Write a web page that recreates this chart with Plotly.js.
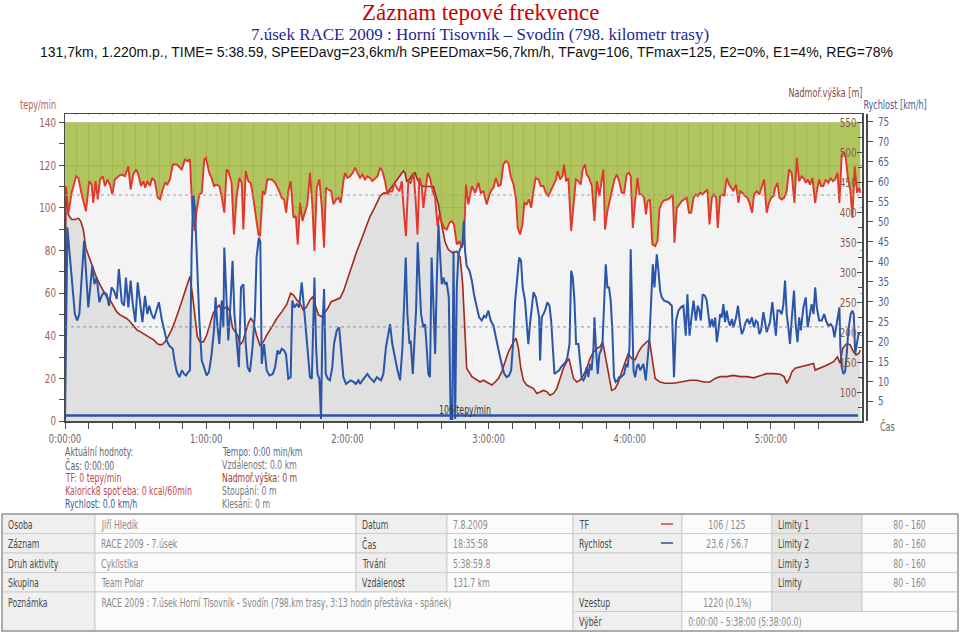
<!DOCTYPE html>
<html><head><meta charset="utf-8">
<script src="https://cdn.plot.ly/plotly-3.0.1.min.js"></script>
<style>html,body{margin:0;padding:0;background:#fff;}#chart{width:960px;height:633px;}</style>
</head><body><div id="chart"></div>
<script>
// ---------------- DATA ----------------
const titleMain = 'Záznam tepové frekvence';
const titleSub = '7.úsek RACE 2009 : Horní Tisovník – Svodín (798. kilometr trasy)';
const titleStats = '131,7km, 1.220m.p., TIME= 5:38.59, SPEEDavg=23,6km/h SPEEDmax=56,7km/h, TFavg=106, TFmax=125, E2=0%, E1=4%, REG=78%';

// time in minutes, heart rate in beats/min
const hrSamples = [[0,109],[0.5,110],[1.4,97],[2.8,107],[4.7,114.8],[5.7,114],[7.1,106.3],[8.9,98.4],[10.3,112.5],[11.3,110.9],[12.0,102.3],[13.0,112.5],[13.9,103.9],[14.9,113.3],[16.0,114.8],[17.0,110.2],[18.0,113.3],[19.1,110.9],[20.1,106.3],[21.2,113.3],[22.7,114.8],[24.1,115.6],[25.5,114.8],[26.9,119.5],[27.9,108.6],[29.0,115.6],[30.2,118],[31.2,115.6],[32.3,110.2],[33.3,112.5],[34.1,109.4],[35.0,112.5],[36.1,110.2],[37.0,114],[38.2,112.5],[39.4,104.7],[40.4,103.9],[41.5,108.6],[42.6,111.7],[43.5,110.9],[44.6,113.3],[45.8,120.3],[47.5,120.3],[49.6,118],[51.0,122.7],[52.0,121.9],[53.1,122.7],[54.2,96.9],[55.1,89.1],[55.9,98.4],[57.1,106.3],[58.1,107],[59.2,122.7],[59.9,123.4],[61.3,116.4],[62.3,114],[63.3,110.2],[64.4,110.9],[65.6,110.2],[66.7,104.7],[67.7,97.7],[68.7,118],[69.4,117.2],[70.8,111.7],[71.8,87.5],[72.9,104.7],[74.1,114],[75.1,111.7],[75.8,89.8],[76.8,117.2],[77.9,112.5],[78.9,111.7],[79.7,107],[80.7,100],[82.2,87.5],[82.9,86.7],[84.0,107.8],[85.0,106.3],[86.0,113.3],[87.9,113.3],[89.3,111.7],[90.7,108.6],[92.1,104.7],[93.1,103.9],[94.0,97.7],[94.9,107.8],[95.9,112.5],[97.1,95.3],[98.1,96.1],[98.9,82.8],[99.9,102.3],[100.9,93.8],[102.0,97.7],[103.0,101.6],[104.1,116.4],[105.1,101.6],[106.0,79.7],[107.0,109.4],[108.1,113.3],[109.1,100.8],[110.1,81.3],[110.9,109.4],[111.9,108.6],[113.1,107.8],[114.1,101.6],[115.2,103.9],[116.2,104.7],[117.2,102.3],[118.3,112.5],[119.0,116.4],[120.0,114],[121.1,114.8],[122.3,116.4],[123.3,118.8],[124.3,116.4],[125.4,114],[126.4,115.6],[127.5,113.3],[128.5,114.8],[129.6,114],[130.6,112.5],[131.8,114],[132.8,114.8],[133.9,118.8],[134.9,117.2],[136.0,112.5],[137.0,106.3],[138.1,107.8],[139.1,107.8],[140.0,111.7],[141.0,109.4],[142.1,107.8],[143.1,112.5],[144.1,96.9],[144.9,86.7],[145.9,112.5],[146.9,111.7],[148.1,116.4],[148.9,105.5],[149.8,87.5],[150.6,114],[151.6,110.2],[152.3,100],[153.3,109.4],[154.2,116.4],[155.1,114],[156.3,107.8],[157.3,104.7],[158.3,91.4],[159.1,96.9],[160.1,93],[161.1,90.6],[162.2,89.8],[163.4,93],[164.3,93.8],[165.3,92.2],[166.5,82.8],[167.6,84.4],[168.6,81.3],[169.6,85.9],[170.4,110.9],[171.4,101.6],[172.9,110.2],[174.3,107],[175.7,111.7],[176.7,107],[177.8,107.8],[179.2,101.6],[180.4,106.3],[181.4,108.6],[182.1,109.4],[183.1,114],[184.2,110.2],[185.2,110.9],[186.3,120.3],[187.3,121.9],[188.4,121.1],[189.4,114.8],[190.6,110.9],[191.6,104.7],[192.4,90.6],[193.4,87.5],[194.4,92.2],[195.2,102.3],[196.2,101.6],[197.2,103.9],[198.1,100],[199.1,107.8],[200.0,114],[201.2,113.3],[202.2,110.2],[203.3,110.2],[204.3,107],[205.4,105.5],[206.4,107.8],[207.6,110.2],[208.7,113.3],[209.3,117.2],[210.4,113.3],[211.4,114.8],[212.1,120.3],[212.9,112.5],[213.9,114],[215.1,89.1],[216.1,103.1],[217.1,113.3],[218.2,112.5],[219.2,110.9],[220.0,118],[221.0,120.3],[221.7,115.6],[222.7,114],[223.9,110.2],[225.0,93.8],[226.0,112.5],[227.1,105.5],[228.1,113.3],[228.8,118],[229.5,89.8],[230.5,98.4],[231.6,103.9],[232.6,108.6],[233.5,113.3],[234.5,115.6],[235.5,112.5],[236.6,107],[237.6,107],[238.7,115.6],[239.7,116.4],[240.4,114.8],[241.3,90.6],[242.3,103.1],[243.3,114],[244.1,106.3],[245.1,106.3],[246.1,104.7],[246.9,96.9],[247.6,103.1],[248.6,103.9],[249.6,82.8],[250.8,82],[251.8,84.4],[252.6,99.2],[253.6,102.3],[254.6,103.5],[256.0,103.9],[257.2,104.7],[258.3,106.3],[259.0,83.6],[260.0,100],[261.1,101.6],[262.1,103.1],[263.1,103.9],[264.2,104.7],[265.2,97.7],[266.1,97.7],[267.1,104.7],[268.1,106.3],[268.9,105.5],[269.9,107],[270.9,106.3],[272.0,107.8],[273.0,108.6],[273.9,92.2],[274.9,104.7],[275.8,106.3],[276.7,104.7],[277.4,90.6],[278.4,105.5],[279.4,106.3],[280.2,105.5],[281.2,114],[282.2,110.9],[283.1,109.4],[284.1,107.8],[285.2,110.9],[286.2,102.3],[286.9,107.8],[287.9,107],[289.0,105.5],[290.0,104.7],[290.9,102.3],[292.0,97.7],[292.8,106.3],[294.0,107.8],[295.1,106.3],[296.1,110.2],[297.1,113.3],[298.2,97.7],[299.2,102.3],[300.1,104.7],[301.1,105.5],[301.8,109.4],[302.8,111.7],[303.6,104.7],[304.6,103.9],[305.6,104.7],[306.7,107.8],[307.7,118],[308.8,116.4],[310.0,102.3],[311.0,123.4],[312.0,112.5],[313.1,114.8],[313.8,114],[314.8,111.7],[315.6,113.3],[316.6,110.9],[317.6,114],[318.8,102.3],[319.5,107.8],[320.5,113.3],[321.3,110.2],[322.3,110.2],[323.3,113.3],[324.4,111.7],[325.4,114],[326.3,112.5],[327.3,113.3],[328.3,116.4],[329.1,102.3],[330.1,125],[331.1,125.8],[331.8,123.4],[332.8,113.3],[333.8,107.8],[334.6,95.3],[335.6,119.5],[336.6,107],[337.5,109.4],[338.0,107]];

// time in minutes, altitude in m
const altSamples = [[0,0],[0.4,440],[1.4,396],[2.8,388],[4.2,388],[5.7,390],[6.7,385],[7.8,371],[8.9,340],[9.9,329],[10.9,321],[12.0,307],[13.5,290],[14.9,279],[16.3,268],[17.7,259],[19.1,254],[20.5,243],[22.0,234],[23.4,229],[24.8,226],[26.2,223],[27.6,218],[29.0,212],[30.5,204],[31.9,201],[33.3,198],[35.0,193],[36.4,190],[37.8,187],[39.2,181],[40.4,179],[41.5,180],[42.5,184],[43.9,193],[45.3,204],[46.7,218],[48.2,234],[49.6,251],[51.0,268],[52.4,285],[53.1,293],[54.2,262],[55.2,223],[56.2,193],[57.4,184],[58.8,184],[60.2,195],[61.6,215],[63.0,232],[64.4,240],[65.6,246],[66.6,234],[67.7,240],[69.0,243],[70.1,234],[71.2,207],[72.2,201],[73.4,195],[74.4,179],[75.5,184],[76.8,201],[77.9,215],[78.9,223],[80.0,218],[81.4,195],[82.9,178],[84.3,184],[85.7,195],[87.9,209],[90.0,223],[92.1,234],[94.2,246],[95.9,265],[97.1,262],[98.5,254],[99.9,248],[101.3,237],[102.7,243],[104.1,254],[105.3,259],[106.3,246],[107.7,229],[109.1,226],[110.2,232],[111.7,240],[113.1,251],[114.8,254],[116.9,257],[118.3,268],[119.7,285],[121.1,301],[122.6,318],[124.0,335],[125.4,349],[126.8,363],[128.2,379],[129.6,393],[131.1,404],[132.5,416],[133.9,427],[135.3,432],[136.7,432],[138.1,438],[139.6,446],[141.0,455],[142.4,463],[143.8,469],[144.5,466],[145.2,452],[146.4,455],[147.6,463],[148.8,466],[149.5,457],[150.9,446],[152.3,443],[153.7,443],[155.1,443],[156.6,443],[157.5,429],[158.7,413],[160.1,379],[161.5,351],[162.9,338],[164.8,332],[166.5,335],[167.9,325],[169.0,280],[169.8,200],[170.7,140],[172.9,126],[175.0,120],[176.4,117],[177.8,120],[179.9,115],[181.4,112],[182.8,117],[184.2,123],[185.6,134],[187.0,151],[188.4,167],[190.6,184],[191.7,190],[192.7,173],[193.7,140],[194.8,120],[196.2,112],[197.6,109],[199.1,106],[200.5,98],[201.9,101],[203.3,103],[204.7,101],[206.1,95],[207.6,98],[209.0,106],[210.4,123],[211.8,140],[213.2,151],[214.2,156],[215.1,140],[216.1,123],[217.5,117],[218.9,120],[220.3,128],[221.7,140],[223.1,156],[224.6,167],[226.0,173],[227.4,176],[228.5,184],[229.5,162],[230.9,128],[232.3,103],[233.8,106],[235.2,117],[236.6,134],[238.0,151],[239.4,165],[240.8,156],[242.3,154],[243.7,167],[245.1,176],[247.2,184],[248.4,187],[249.3,162],[250.8,123],[252.9,117],[255.0,115],[258.6,115],[260.7,117],[262.8,118],[265.6,120],[268.5,120],[271.3,117],[274.1,117],[276.3,123],[278.4,126],[281.2,126],[284.1,128],[286.9,126],[289.7,126],[292.6,124],[295.4,127],[298.2,131],[301.1,131],[303.9,130],[305.6,126],[306.7,115],[307.9,123],[308.9,134],[310.3,140],[312.4,142],[315.2,145],[318.1,148],[318.8,137],[320.9,140],[323.7,145],[326.6,151],[328.3,159],[329.4,148],[330.5,173],[331.7,179],[332.5,181],[333.7,179],[335.1,167],[336.2,162],[337.4,165],[338.0,170]];

// time in minutes, speed in km/h
const speedSamples = [[0,0],[1.0,48.5],[4.2,26.8],[5.2,25.2],[6.1,26.8],[7.1,36.8],[8.1,45.2],[8.9,37.7],[9.9,28.5],[10.6,32.7],[11.6,38.9],[12.5,34.3],[13.5,36],[14.6,29.8],[15.6,31.4],[16.6,32.3],[17.7,31.8],[18.7,28.9],[19.8,33.5],[20.8,32.7],[22.0,30.6],[22.9,38.1],[24.1,29.8],[25.1,28.9],[25.9,36],[26.9,28.5],[27.9,35.2],[28.8,29.3],[29.9,24.8],[30.9,34.8],[31.9,28.9],[32.9,24.8],[34.0,31.4],[35.0,26.8],[35.8,28.9],[36.8,26.8],[37.8,25.6],[39.0,27.7],[39.9,29.8],[41.1,25.6],[42.1,22.7],[43.2,20.2],[44.3,18.9],[45.8,18.1],[46.5,15.2],[47.5,12.3],[48.6,11],[49.7,12.7],[50.6,11.8],[51.4,11.4],[52.4,12.3],[53.1,12.7],[53.8,42.3],[54.5,56.7],[55.2,53.5],[55.9,41],[57.1,25.2],[58.1,15.2],[59.1,13.5],[60.2,11.4],[61.2,12.3],[62.3,16.8],[63.3,22.7],[64.0,31],[64.7,24.3],[65.6,19.3],[66.6,30.2],[67.3,23.5],[67.7,43.5],[68.7,26.8],[69.4,20.2],[70.4,30.2],[71.2,40.2],[72.0,26.8],[72.9,19.3],[73.9,13.5],[74.8,33.5],[75.8,34.3],[76.8,19.3],[77.6,13.5],[78.6,12.3],[79.7,18.5],[80.7,26.8],[81.4,41],[82.4,46],[83.0,45],[83.6,14.3],[84.6,19.3],[85.7,12.7],[86.9,11.4],[88.3,11.8],[89.3,13.5],[90.3,17.7],[91.1,16.8],[92.1,18.1],[93.1,17.7],[93.9,16.8],[94.9,10.6],[95.9,11],[96.6,30.2],[97.5,28.5],[98.5,29.3],[99.5,28.5],[100.6,34.8],[101.3,30.2],[102.3,22.7],[103.2,16],[104.1,11],[104.9,10.6],[105.6,30.2],[106.0,36],[106.7,18.5],[107.3,11.8],[108.1,10.6],[108.8,0.5],[109.4,23.5],[110.1,33.1],[110.8,11.8],[111.7,10.6],[112.6,10.2],[113.6,13.5],[114.3,19.3],[115.5,22.7],[116.5,23.5],[117.3,18.5],[118.3,11],[119.4,9.3],[120.4,9.8],[121.4,10.2],[122.6,9.8],[123.6,9.3],[124.7,10.2],[125.4,9.3],[126.4,10.2],[127.5,11],[128.5,11.8],[129.4,11],[130.4,10.2],[131.3,9.8],[132.5,11],[133.5,10.6],[134.3,10.2],[135.3,11.8],[136.4,18.5],[137.4,21.8],[138.1,24.3],[139.1,19.3],[140.3,15.2],[141.3,12.7],[142.4,10.2],[143.4,18.5],[144.2,31],[144.8,41],[145.5,26.8],[146.4,19.3],[146.9,20.2],[147.8,11.8],[148.5,20.2],[149.2,27.7],[149.9,44.8],[150.6,36.8],[151.3,26.8],[152.3,23.5],[153.0,24.3],[153.7,18.5],[154.4,11.8],[155.1,11],[155.8,41],[156.6,28.5],[157.3,16.8],[158.0,35.2],[158.7,49.3],[159.4,41.8],[160.1,34.3],[160.8,36],[161.5,34.3],[162.2,34.8],[163.1,31],[163.9,0.5],[164.6,0.5],[165.1,42.7],[165.8,0.5],[166.5,33.5],[167.2,41.8],[167.9,43.1],[168.9,44.3],[169.5,50.2],[170.0,42.7],[170.7,38.9],[171.9,37.7],[172.9,35.2],[173.8,31.8],[175.0,28.5],[176.0,26],[177.1,25.2],[178.1,26.4],[178.9,26],[179.9,27.7],[180.9,25.2],[182.1,23.9],[183.1,21],[183.9,18.5],[184.9,16],[185.9,13.5],[186.7,11.8],[187.7,11],[188.7,11.4],[189.6,12.7],[190.3,18.5],[191.3,30.2],[192.3,37.7],[193.0,41],[193.8,40.2],[194.5,33.5],[195.5,30.2],[196.2,25.2],[196.9,19.3],[197.6,24.3],[198.4,29.3],[199.1,32.3],[200.1,31],[200.8,28.5],[201.5,26],[201.9,15.2],[202.6,26],[203.3,26.8],[204.0,27.7],[205.0,29.8],[205.9,28.9],[206.6,25.2],[207.3,18.5],[208.0,11.8],[209.0,12.3],[210.0,12.7],[210.8,13.5],[211.8,14.3],[212.8,14.8],[213.5,16],[214.4,19.3],[215.1,37.7],[215.8,36],[216.5,30.2],[217.2,19.3],[218.2,19.3],[218.9,14.3],[219.6,10.6],[220.3,10.2],[221.0,11],[221.7,13.5],[222.4,11],[223.1,14.3],[223.8,12.7],[224.6,18.5],[225.0,26],[225.6,18.5],[226.4,11.8],[227.1,16.8],[227.8,17.7],[228.4,19.3],[229.1,30.2],[229.8,39.3],[230.5,33.5],[231.2,33.5],[231.9,30.2],[232.6,22.7],[233.3,11],[234.0,9.8],[234.8,10.2],[235.5,11],[236.2,11],[236.9,11.4],[237.6,11.8],[238.4,14.3],[239.1,13.5],[239.9,18.5],[240.4,43.1],[241.0,27.7],[241.6,12.7],[242.3,11],[243.0,13.5],[243.7,14.3],[244.4,12.7],[245.1,13.5],[245.8,14.3],[246.8,10.2],[247.5,14.3],[248.4,21],[249.1,30.2],[249.8,39.3],[250.5,33.5],[251.5,41.8],[252.2,37.7],[252.9,32.7],[253.6,31],[254.6,30.2],[256.4,29.8],[257.9,28.9],[258.8,11],[259.7,25.2],[260.7,27.7],[261.7,28.5],[262.8,28.9],[263.8,21.4],[264.5,31.8],[265.4,21.4],[266.1,25.2],[267.1,30.2],[268.1,25.2],[268.9,28.9],[269.6,27.7],[270.2,25.2],[271.0,31.8],[272.0,31.4],[272.7,30.2],[273.4,26.8],[274.1,23.5],[274.9,25.6],[275.6,23.5],[276.3,26],[277.0,19.8],[277.7,22.7],[278.4,26.8],[279.1,26],[279.8,29.3],[280.5,24.8],[281.2,27.7],[281.9,25.2],[282.6,23.9],[283.4,25.6],[284.1,23.5],[285.2,26],[286.0,28.9],[286.9,24.3],[287.6,21.8],[288.3,22.7],[289.0,24.3],[290.0,25.6],[290.9,24.3],[291.9,26],[292.8,23.5],[293.6,25.2],[294.3,24.8],[295.1,21.8],[295.8,22.7],[296.8,27.3],[297.7,23.5],[298.2,22.3],[298.9,23.5],[299.6,24.8],[300.6,29.8],[301.3,25.2],[302.1,21.4],[302.8,27.7],[303.6,27.7],[304.6,26.8],[305.3,29.3],[306.0,35.2],[306.7,26.8],[307.4,23.5],[308.1,19.3],[308.8,25.2],[309.8,32.7],[310.5,24.3],[311.3,19.8],[312.0,26],[312.7,22.7],[313.8,28.5],[314.8,31],[315.6,23.5],[316.6,26.8],[317.3,29.3],[318.1,26.8],[318.8,33.5],[319.5,28.5],[320.5,25.2],[321.6,25.2],[322.6,26.8],[323.4,25.2],[324.4,23.9],[325.4,24.3],[326.3,23.5],[327.0,21],[327.7,23.5],[328.4,26.8],[329.1,28.5],[329.5,18.5],[330.1,13.5],[330.8,11.8],[331.5,12.3],[332.2,16.8],[332.9,22.7],[333.9,26.8],[334.6,27.7],[335.2,26.8],[335.8,16.8],[336.5,19.3],[337.2,21.8],[337.9,21.8]];

const zoneTime = [0, 338];       // HR limit zone (80-160), visible part up to 140
const zoneTop = [140, 140];
const hrAvg = 106;
const speedAvg = 23.6;
const baseTime = [0, 337];
const baseSpeed = [1.4, 1.4];

const timeTicks = [0,10,20,30,40,50,60,70,80,90,100,110,120,130,140,150,160,170,180,190,200,210,220,230,240,250,260,270,280,290,300,310,320,330];
const hourLabels = ['0:00:00','1:00:00','2:00:00','3:00:00','4:00:00','5:00:00'];
const hrTicks = [0,20,40,60,80,100,120,140];
const altTicks = [100,150,200,250,300,350,400,450,500,550];
const speedTicks = [5,10,15,20,25,30,35,40,45,50,55,60,65,70,75];

const infoLeft = ['Aktuální hodnoty:','Čas: 0:00:00','TF: 0 tepy/min',"Kalorick8 spot'eba: 0 kcal/60min",'Rychlost: 0.0 km/h'];
const infoRight = ['Tempo: 0:00 min/km','Vzdálenost: 0.0 km','Nadmoř.výška: 0 m','Stoupání: 0 m','Klesání: 0 m'];

const tableRows = [
  ['Osoba','Jiří Hledík','Datum','7.8.2009','TF','106 / 125','Limity 1','80 - 160'],
  ['Záznam','RACE 2009 - 7.úsek','Čas','18:35:58','Rychlost','23.6 / 56.7','Limity 2','80 - 160'],
  ['Druh aktivity','Cyklistika','Trvání','5:38:59.8','','','Limity 3','80 - 160'],
  ['Skupina','Team Polar','Vzdálenost','131.7 km','','','Limity','80 - 160']
];
const noteRow = ['Poznámka','RACE 2009 : 7.úsek Horní Tisovník - Svodín (798.km trasy, 3:13 hodin přestávka - spánek)','Vzestup','1220 (0.1%)'];
const selectRow = ['Výběr','0:00:00 - 5:38:00 (5:38:00.0)'];

// ---------------- STYLE / LAYOUT ----------------
const NARROW = "'DejaVu Sans Condensed','Liberation Sans Narrow',sans-serif";
const SQUEEZE = 0.72;
const TICK_SQUEEZE = 0.78;
const L = 65, R = 866, T = 114, B = 421, PR = 862;
const px = x => (x - L) / (R - L);
const py = y => (B - y) / (B - T);

const hrT = hrSamples.map(p => p[0]), hrV = hrSamples.map(p => p[1]);
const altT = altSamples.map(p => p[0]), altV = altSamples.map(p => p[1]);
const spT = speedSamples.map(p => p[0]), spV = speedSamples.map(p => p[1]);

const HR_RANGE = [0, 144];
const traces = [
  {x: zoneTime, y: zoneTop, type:'scatter', mode:'lines', line:{width:0, color:'rgba(0,0,0,0)'}, hoverinfo:'skip', xaxis:'x', yaxis:'y'},
  {x: hrT, y: hrV, type:'scatter', mode:'lines', fill:'tonexty', fillcolor:'rgba(164,188,68,0.86)', line:{width:0, color:'rgba(0,0,0,0)'}, hoverinfo:'skip', xaxis:'x', yaxis:'y'},
  {x: hrT, y: hrV, type:'scatter', mode:'lines', fill:'tozeroy', fillcolor:'#f3f3f3', line:{width:0, color:'rgba(0,0,0,0)'}, hoverinfo:'skip', xaxis:'x', yaxis:'y'},
  {x: altT, y: altV, type:'scatter', mode:'lines', fill:'tozeroy', fillcolor:'#e0e0e0', line:{width:1.6, color:'#9e2a1c'}, xaxis:'x', yaxis:'y2'},
  {x: hrT, y: hrV, type:'scatter', mode:'lines', line:{width:1.9, color:'#e2382c'}, xaxis:'x', yaxis:'y3'},
  {x: spT, y: spV, type:'scatter', mode:'lines', line:{width:2, color:'#2a55a8'}, xaxis:'x', yaxis:'y4'},
  {x: baseTime, y: baseSpeed, type:'scatter', mode:'lines', line:{width:2.5, color:'#2a55a8'}, xaxis:'x', yaxis:'y4'}
];

const tickText = timeTicks.map(t => (t % 60 === 0) ? hourLabels[t/60] : '');

const shapes = [];
const annotations = [];
const annSqueeze = [];
function addText(text, x, y, opt, squeeze) {
  opt = opt || {};
  annotations.push(Object.assign({text: text, xref:'paper', yref:'paper', x: px(x), y: py(y), showarrow:false,
    xanchor:'left', yanchor:'middle', borderpad:0,
    font:{family:NARROW, size:11.5, color:'#666'}}, opt));
  annSqueeze.push(squeeze === undefined ? SQUEEZE : squeeze);
}
function rect(x0, y0, x1, y1, fill, lc, lw) {
  shapes.push({type:'rect', xref:'paper', yref:'paper', x0:px(x0), x1:px(x1), y0:py(y1), y1:py(y0),
    fillcolor:fill, line:{color:lc || '#cdcdcd', width: lw === undefined ? 1 : lw}, layer:'above'});
}
const nf = (size, color) => ({family:NARROW, size:size, color:color});

// white strip above the 140 zone, hiding grid
shapes.push({type:'rect', xref:'x', yref:'y', x0:0, x1:338.7, y0:140, y1:143.6, fillcolor:'#ffffff', line:{width:0}, layer:'between'});
// average lines
shapes.push({type:'line', xref:'x', yref:'y', x0:0, x1:338.7, y0:hrAvg, y1:hrAvg, line:{color:'#a0a0a0', width:1, dash:'dot'}});
shapes.push({type:'line', xref:'x', yref:'y4', x0:0, x1:338.7, y0:speedAvg, y1:speedAvg, line:{color:'#8090b8', width:1, dash:'dot'}});

// titles
addText(titleMain, 481, 12, {xanchor:'center', font:{family:"'Liberation Serif','Times New Roman',serif", size:23, color:'#cc0000'}}, 1);
addText(titleSub, 480, 34, {xanchor:'center', font:{family:"'Liberation Serif','Times New Roman',serif", size:17, color:'#1f1f9a'}}, 1);
addText(titleStats, 466, 52, {xanchor:'center', font:{family:"'Liberation Sans',Arial,sans-serif", size:14, color:'#111'}}, 1);

// axis titles
addText('tepy/min', 38, 104, {xanchor:'center', font:nf(12.5, '#b06060')});
addText('Nadmoř.výška [m]', 825, 93, {xanchor:'center', font:nf(12.5, '#8b4a3a')});
addText('Rychlost [km/h]', 895, 104, {xanchor:'center', font:nf(12.5, '#4a6090')});
addText('Čas', 887, 426, {xanchor:'center', font:nf(12.5, '#666')});
addText(hrAvg + ' tepy/min', 438, 410, {font:nf(12, '#333')});

// info block
const infoY = [452, 465, 478, 491, 504];
const leftColors = ['#666','#666','#c04a4a','#c04a4a','#3a5a9a'];
const rightColors = ['#4a6aa0','#777','#a03c3c','#777','#777'];
infoLeft.forEach((s,i) => addText(s, 64, infoY[i], {font:nf(12, leftColors[i])}));
infoRight.forEach((s,i) => addText(s, 221, infoY[i], {font:nf(12, rightColors[i])}));

// table
const colEdges = [2, 95, 356, 447, 573, 682, 772, 862, 958];
const rowEdges = [514, 533.5, 553, 572.5, 592, 611.5, 631];
const labelFill = '#efefef', valueFill = '#fbfbfb', limitFill = '#e6e6e6';
const fills = [labelFill, valueFill, labelFill, valueFill, labelFill, valueFill, limitFill, valueFill];
const centered = [false,false,false,false,false,true,false,true];
const labelColor = '#4a4a4a', valueColor = '#8a8a8a';
const TS = 12;
tableRows.forEach((row, r) => {
  row.forEach((txt, c) => {
    rect(colEdges[c], rowEdges[r], colEdges[c+1], rowEdges[r+1], fills[c]);
    const yc = (rowEdges[r] + rowEdges[r+1]) / 2 + 1;
    const col = (c % 2 === 0) ? labelColor : valueColor;
    if (txt) {
      if (centered[c]) addText(txt, (colEdges[c] + colEdges[c+1]) / 2, yc, {xanchor:'center', font:nf(TS, col)});
      else addText(txt, colEdges[c] + 5, yc, {font:nf(TS, col)});
    }
  });
});
// merged rows
rect(colEdges[0], rowEdges[4], colEdges[1], rowEdges[6], labelFill);
rect(colEdges[1], rowEdges[4], colEdges[4], rowEdges[6], valueFill);
rect(colEdges[4], rowEdges[4], colEdges[5], rowEdges[5], labelFill);
rect(colEdges[5], rowEdges[4], colEdges[6], rowEdges[5], valueFill);
rect(colEdges[6], rowEdges[4], colEdges[7], rowEdges[5], limitFill);
rect(colEdges[7], rowEdges[4], colEdges[8], rowEdges[5], valueFill);
rect(colEdges[4], rowEdges[5], colEdges[5], rowEdges[6], labelFill);
rect(colEdges[5], rowEdges[5], colEdges[8], rowEdges[6], valueFill);
const y4 = (rowEdges[4] + rowEdges[5]) / 2 + 1, y5 = (rowEdges[5] + rowEdges[6]) / 2 + 1;
addText(noteRow[0], colEdges[0] + 5, y4, {font:nf(TS, labelColor)});
addText(noteRow[1], colEdges[1] + 5, y4, {font:nf(TS, valueColor)});
addText(noteRow[2], colEdges[4] + 5, y4, {font:nf(TS, labelColor)});
addText(noteRow[3], (colEdges[5] + colEdges[6]) / 2, y4, {xanchor:'center', font:nf(TS, valueColor)});
addText(selectRow[0], colEdges[4] + 5, y5, {font:nf(TS, labelColor)});
addText(selectRow[1], colEdges[5] + 5, y5, {font:nf(TS, valueColor)});
// legend dashes in table
shapes.push({type:'line', xref:'paper', yref:'paper', x0:px(661), x1:px(673), y0:py(524), y1:py(524), line:{color:'#e04040', width:1.5}});
shapes.push({type:'line', xref:'paper', yref:'paper', x0:px(661), x1:px(673), y0:py(543), y1:py(543), line:{color:'#3050a0', width:1.5}});
// outer border
rect(colEdges[0], rowEdges[0], colEdges[8], rowEdges[6], 'rgba(0,0,0,0)', '#9a9a9a', 1.5);

const axisLine = '#4a4a4a';
const layout = {
  width: 960, height: 633,
  margin: {l: L, r: 960 - R, t: T, b: 633 - B, pad: 0},
  paper_bgcolor: '#ffffff', plot_bgcolor: '#ffffff',
  showlegend: false,
  font: {family: NARROW, size: 12, color: '#666'},
  xaxis: {domain:[0, (PR - L) / (R - L)], range:[0, 338.7], tickmode:'array', tickvals: timeTicks, ticktext: tickText,
    ticks:'outside', ticklen:6, tickcolor: axisLine, showline:true, linecolor: axisLine, linewidth:1.5, mirror:true,
    showgrid:true, gridcolor:'#9a9a9a', gridwidth:1, zeroline:false,
    minor:{dtick:5, tick0:0, showgrid:true, gridcolor:'#9a9a9a', gridwidth:1, ticks:''},
    tickfont:{family:NARROW, size:12, color:'#666'}},
  yaxis: {range: HR_RANGE, tickmode:'array', tickvals: hrTicks, ticks:'outside', ticklen:5, tickcolor: axisLine,
    showline:true, linecolor: axisLine, linewidth:1.5, mirror:true, showgrid:true, gridcolor:'#9a9a9a', zeroline:false,
    minor:{dtick:10, tick0:0, ticks:'outside', ticklen:5, tickcolor: axisLine, showgrid:false},
    tickfont:{family:NARROW, size:12.5, color:'#a05a5a'}},
  yaxis2: {overlaying:'y', side:'right', anchor:'x', range:[52, 564], tickmode:'array', tickvals: altTicks,
    ticks:'inside', ticklen:5, tickcolor: axisLine, ticklabelposition:'inside', showgrid:false, zeroline:false, showline:false,
    minor:{dtick:25, tick0:0, ticks:'inside', ticklen:4, tickcolor: axisLine, showgrid:false},
    tickfont:{family:NARROW, size:12.5, color:'#8b5a40'}},
  yaxis3: {overlaying:'y', range: HR_RANGE, visible:false, showgrid:false},
  yaxis4: {overlaying:'y', side:'right', anchor:'free', position:1, range:[0, 77], tickmode:'array', tickvals: speedTicks,
    ticks:'outside', ticklen:5, tickcolor: axisLine, showline:true, linecolor: axisLine, linewidth:1.5, showgrid:false, zeroline:false,
    ticklabelstandoff: 3,
    tickfont:{family:NARROW, size:12.5, color:'#4a6090'}},
  shapes: shapes,
  annotations: annotations
};

function originFor(anchor) {
  return anchor === 'middle' || anchor === 'center' ? '50% 50%' : (anchor === 'end' ? '100% 50%' : '0% 50%');
}
function squeezeText(gd) {
  gd.querySelectorAll('g.annotation').forEach(g => {
    const idx = +g.getAttribute('data-index');
    const s = annSqueeze[idx];
    if (!s || s === 1) return;
    const t = g.querySelector('text.annotation-text');
    if (!t) return;
    t.style.transformBox = 'fill-box';
    t.style.transformOrigin = originFor(annotations[idx].xanchor);
    t.style.transform = 'scaleX(' + s + ')';
  });
  // narrow tick labels
  gd.querySelectorAll('g.xtick text, g.ytick text, g.y2tick text, g.y4tick text').forEach(t => {
    const attr = t.getAttribute('transform') || '';
    let tx = 0, ty = 0;
    if (attr) {
      const m = /^\s*translate\(\s*([-\d.e]+)(?:[\s,]+([-\d.e]+))?\s*\)\s*$/.exec(attr);
      if (!m) return;
      tx = parseFloat(m[1]); ty = m[2] ? parseFloat(m[2]) : 0;
    }
    const anchor = t.getAttribute('text-anchor') || window.getComputedStyle(t).textAnchor;
    t.style.transformBox = 'fill-box';
    t.style.transformOrigin = originFor(anchor);
    t.style.transform = 'translate(' + tx + 'px,' + ty + 'px) scaleX(' + TICK_SQUEEZE + ')';
  });
}

Plotly.newPlot('chart', traces, layout, {staticPlot:true, displayModeBar:false}).then(gd => squeezeText(gd));
</script>
</body></html>
